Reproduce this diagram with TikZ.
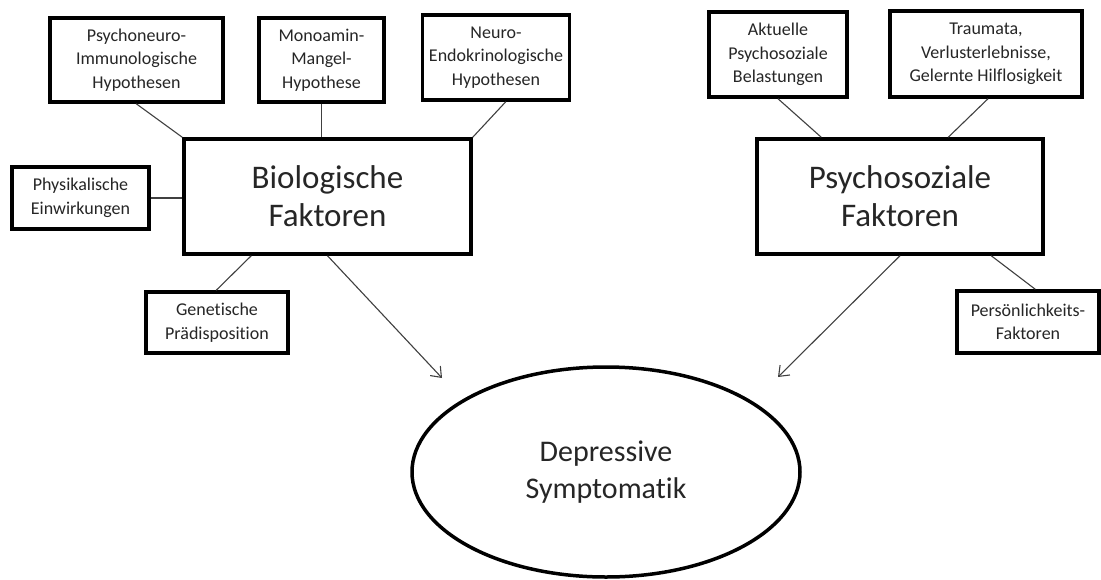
\documentclass[tikz,border=0pt]{standalone}
\usepackage{fontspec}
\setmainfont{Carlito}[Ligatures=NoCommon]
\usetikzlibrary{arrows.meta,shapes.geometric}
\begin{document}
\begin{tikzpicture}[x=1pt,y=-1pt,
  smallbox/.style={draw=black,line width=3.5pt,rectangle,inner sep=0pt,align=center,
    font=\fontsize{18}{23.5}\selectfont,text=black!85},
  bigbox/.style={draw=black,line width=3.5pt,rectangle,inner sep=0pt,align=center,
    font=\fontsize{33}{38}\selectfont,text=black!85,minimum width=287pt,minimum height=115pt},
  link/.style={draw=black!75,line width=1.1pt},
  arr/.style={link,-{Straight Barb[length=9pt,width=14pt,line width=1.1pt]}}]
\useasboundingbox (0,0) rectangle (1101,579);
\fill[white] (0,0) rectangle (1101,579);
% big boxes
\node[bigbox] (bio) at (327.5,196.5) {Biologische\\Faktoren};
\node[bigbox,minimum width=286pt] (psy) at (900,196.5) {Psychosoziale\\Faktoren};
% small boxes
\node[smallbox,minimum width=173pt,minimum height=84pt] (pni) at (136.5,60) {Psychoneuro-\\Immunologische\\Hypothesen};
\node[smallbox,minimum width=125pt,minimum height=84pt] (mono) at (321.5,60) {Monoamin-\\Mangel-\\Hypothese};
\node[smallbox,minimum width=147pt,minimum height=85pt] (neuro) at (496,57.5) {Neuro-\\Endokrinologische\\Hypothesen};
\node[smallbox,minimum width=137pt,minimum height=62pt] (phys) at (80.5,198) {Physikalische\\Einwirkungen};
\node[smallbox,minimum width=142pt,minimum height=61pt] (gen) at (217,322.5) {Genetische\\Prädisposition};
\node[smallbox,minimum width=138pt,minimum height=85pt] (akt) at (778,54.5) {Aktuelle\\Psychosoziale\\Belastungen};
\node[smallbox,minimum width=192pt,minimum height=86pt] (trauma) at (986,54) {Traumata,\\Verlusterlebnisse,\\Gelernte Hilflosigkeit};
\node[smallbox,minimum width=142pt,minimum height=62pt] (pers) at (1028,322) {Persönlichkeits-\\Faktoren};
% ellipse
\node[draw=black,line width=3.5pt,ellipse,inner sep=0pt,minimum width=388pt,minimum height=210pt,
  align=center,font=\fontsize{30}{37}\selectfont,text=black!85] (dep) at (606,472) {Depressive\\Symptomatik};
% arrow ends
\coordinate (bioend) at (442,378);
\coordinate (psyend) at (778,377);
% connectors
\draw[link] ([xshift=88pt]pni.south west) -- (bio.north west);
\draw[link] (mono.south) -- (mono.south |- bio.north);
\draw[link] ([xshift=85pt]neuro.south west) -- (bio.north east);
\draw[link] (phys.east) -- (phys.east -| bio.west);
\draw[link] ([xshift=72pt]gen.north west) -- ([xshift=69pt]bio.south west);
\draw[link] (akt.south) -- ([xshift=66pt]psy.north west);
\draw[link] ([xshift=2pt]trauma.south) -- ([xshift=193pt]psy.north west);
\draw[link] ([xshift=80pt]pers.north west) -- ([xshift=236pt]psy.south west);
\draw[arr] (bio.south) -- (bioend);
\draw[arr] (psy.south) -- (psyend);
\end{tikzpicture}
\end{document}
